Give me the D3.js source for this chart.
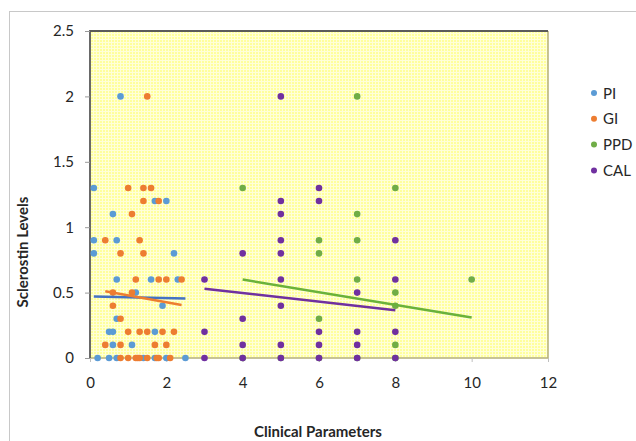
<!DOCTYPE html>
<html><head><meta charset="utf-8">
<script src="https://cdn.jsdelivr.net/npm/d3@7"></script>
<style>body{margin:0;background:#fff;}svg{display:block;font-family:Lato,"Open Sans",sans-serif;}</style>
</head><body>
<script>
const seriesNames = ["PI","GI","PPD","CAL"];
const seriesColors = ["#5B9BD5","#ED7D31","#70AD47","#7030A0"];
const trendColors = ["#4472C4","#ED7D31","#6AB23A","#7030A0"];
const xTicks = [0,2,4,6,8,10,12];
const yTicks = [0,0.5,1,1.5,2,2.5];
const yTickLabels = ["0","0.5","1","1.5","2","2.5"];

const piX = [0.8,0.1,1.7,2.0,0.6,0.1,0.7,0.1,2.2,0.7,1.6,2.3,1.2,1.9,0.7,0.5,0.6,1.7,0.6,1.1,0.2,0.5,0.7,1.4,1.7,2.0,2.5];
const piY = [2.0,1.3,1.2,1.2,1.1,0.9,0.9,0.8,0.8,0.6,0.6,0.6,0.5,0.4,0.3,0.2,0.2,0.2,0.1,0.1,0,0,0,0,0,0,0];

const giX = [1.5,1.0,1.4,1.6,1.4,1.8,1.1,0.4,1.3,0.8,1.4,1.2,1.8,2.0,2.4,0.6,1.1,0.6,0.8,1.0,1.3,1.5,1.9,2.2,0.4,0.8,1.7,2.0,0.8,1.0,1.2,1.25,1.3,1.5,1.75,1.8,2.1];
const giY = [2.0,1.3,1.3,1.3,1.2,1.2,1.1,0.9,0.9,0.8,0.8,0.6,0.6,0.6,0.6,0.5,0.5,0.4,0.3,0.2,0.2,0.2,0.2,0.2,0.1,0.1,0.1,0.1,0,0,0,0,0,0,0,0,0];

const ppdX = [4,7,7,6,7,6,7,6,8,8,8,8,10,4,5,6,7,8];
const ppdY = [1.3,2.0,1.1,0.9,0.9,0.8,0.6,0.3,1.3,0.5,0.4,0.1,0.6,0,0,0,0,0];

const calX = [3,3,3,4,4,4,4,5,5,5,5,5,5,5,5,5,6,6,6,6,6,7,7,7,7,8,8,8,8];
const calY = [0.6,0.2,0,0.8,0.3,0.1,0,2.0,1.2,1.1,0.9,0.8,0.6,0.4,0.1,0,1.3,1.2,0.2,0.1,0,0.5,0.2,0.1,0,0.9,0.6,0.2,0];

// linear trendline end points (x, y)
const trendX1 = [0.1,0.4,4,3];
const trendY1 = [0.47,0.51,0.6,0.53];
const trendX2 = [2.5,2.4,10,8];
const trendY2 = [0.455,0.405,0.31,0.365];

const W = 636, H = 441;
const svg = d3.select("body").append("svg").attr("width",W).attr("height",H);

// outer chart frame
svg.append("rect").attr("x",9.5).attr("y",11.5).attr("width",W+20).attr("height",H+20)
  .attr("fill","#fff").attr("stroke","#c8c8c8").attr("stroke-width",1);

const x = d3.scaleLinear().domain([0,12]).range([90,548]);
const y = d3.scaleLinear().domain([0,2.5]).range([358,31]);

// plot area with textured yellow fill
const defs = svg.append("defs");
const pat = defs.append("pattern").attr("id","tex").attr("patternUnits","userSpaceOnUse").attr("width",3).attr("height",3);
pat.append("rect").attr("width",3).attr("height",3).attr("fill","#FFFF9C");
pat.append("rect").attr("width",3).attr("height",1).attr("fill","#FFFFD8");
pat.append("rect").attr("width",1).attr("height",3).attr("fill","#FFFFD8");

svg.append("rect").attr("x",x(0)).attr("y",y(2.5)).attr("width",x(12)-x(0)).attr("height",y(0)-y(2.5))
  .attr("fill","url(#tex)");
svg.append("path").attr("d",`M${x(12)},${y(2.5)}V${y(0)}H${x(0)}`).attr("fill","none").attr("stroke","#B5B07A").attr("stroke-width",1.5);
svg.append("path").attr("d",`M${x(0)},${y(0)}V${y(2.5)}H${x(12)}`).attr("fill","none").attr("stroke","#5a5a5a").attr("stroke-width",1.8);

// axes
const xAxis = d3.axisBottom(x).tickValues(xTicks).tickSize(4).tickPadding(15).tickFormat(d3.format("d"));
const gx = svg.append("g").attr("transform",`translate(0,${y(0)})`).call(xAxis);
gx.select(".domain").remove();
gx.selectAll(".tick line").attr("stroke","#bfbfbf");
gx.selectAll(".tick text").attr("font-size",15).attr("fill","#262626").attr("font-family","Lato, sans-serif");

const yAxis = d3.axisLeft(y).tickValues(yTicks).tickSize(5).tickPadding(11).tickFormat((d,i)=>yTickLabels[i]);
const gy = svg.append("g").attr("transform",`translate(${x(0)},0)`).call(yAxis);
gy.select(".domain").remove();
gy.selectAll(".tick line").attr("stroke","#9a9a9a");
gy.selectAll(".tick text").attr("font-size",15).attr("fill","#262626").attr("font-family","Lato, sans-serif");

// points
const allX = [piX, giX, ppdX, calX];
const allY = [piY, giY, ppdY, calY];
allX.forEach((xs,si)=>{
  const pts = xs.map((v,i)=>({x:v,y:allY[si][i]}));
  svg.append("g").selectAll("circle").data(pts).join("circle")
    .attr("cx",d=>x(d.x)).attr("cy",d=>y(d.y)).attr("r",3.3)
    .attr("fill",seriesColors[si]);
});

// trendlines
seriesNames.forEach((n,i)=>{
  svg.append("line")
    .attr("x1",x(trendX1[i])).attr("y1",y(trendY1[i]))
    .attr("x2",x(trendX2[i])).attr("y2",y(trendY2[i]))
    .attr("stroke",trendColors[i]).attr("stroke-width",2.5);
});

// legend
const lg = svg.append("g").attr("transform","translate(594,93)");
seriesNames.forEach((n,i)=>{
  const g = lg.append("g").attr("transform",`translate(0,${i*25.8})`);
  g.append("circle").attr("r",3).attr("fill",seriesColors[i]);
  g.append("text").attr("x",9).attr("y",5.5).attr("font-size",15).attr("fill","#262626").text(n);
});

// axis titles
svg.append("text").attr("x",318).attr("y",437).attr("text-anchor","middle")
  .attr("font-size",15).attr("font-weight","bold").attr("fill","#262626").text("Clinical Parameters");
svg.append("text").attr("transform","translate(28,252) rotate(-90)").attr("text-anchor","middle")
  .attr("font-size",15).attr("font-weight","bold").attr("fill","#262626").text("Sclerostin Levels");
</script>
</body></html>
